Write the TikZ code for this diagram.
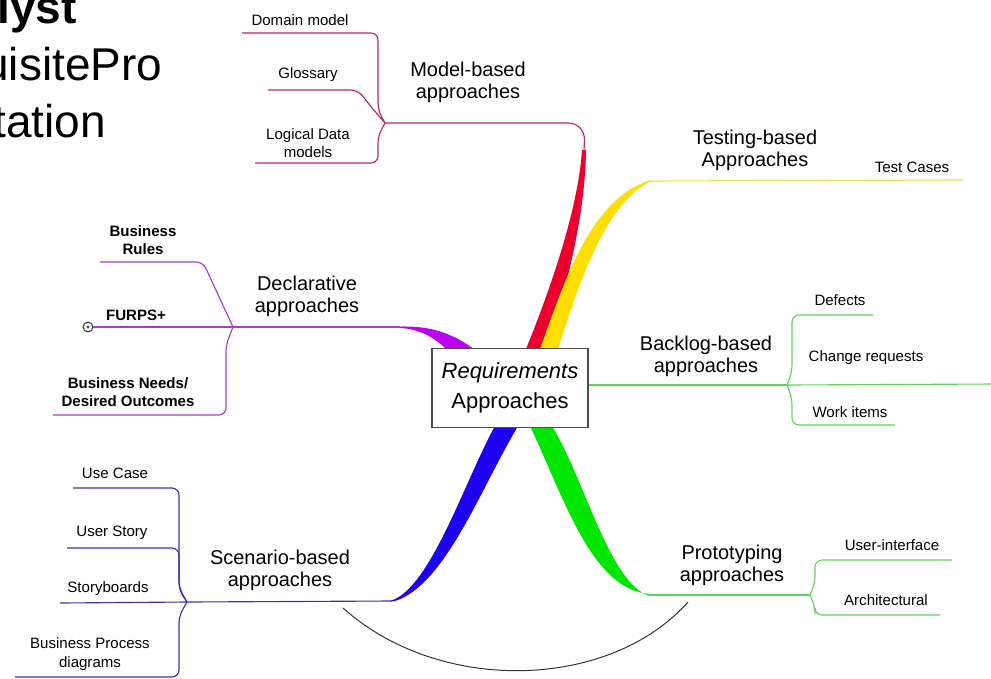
\documentclass[tikz,border=0pt]{standalone}
\usepackage{fontspec}
\setmainfont{Liberation Sans}
\definecolor{redtk}{RGB}{235,0,45}
\definecolor{redln}{RGB}{190,40,80}
\definecolor{yeltk}{RGB}{255,222,0}
\definecolor{yelln}{RGB}{238,224,90}
\definecolor{purtk}{RGB}{190,0,240}
\definecolor{purln}{RGB}{170,60,200}
\definecolor{grntk}{RGB}{0,230,0}
\definecolor{grnln}{RGB}{95,210,95}
\definecolor{blutk}{RGB}{30,0,240}
\definecolor{bluln}{RGB}{60,50,170}
\tikzset{
  topic/.style={align=center,inner sep=1pt,font=\fontsize{14.2}{15.6}\selectfont},
  leaf/.style={align=center,inner sep=1pt,font=\fontsize{10.7}{13.3}\selectfont},
  leafb/.style={leaf,font=\bfseries\fontsize{10.7}{13.3}\selectfont},
  big/.style={anchor=base west,inner sep=0pt,font=\fontsize{32.7}{40}\selectfont},
  twig/.style={line width=0.8pt,rounded corners=5pt},
}
\begin{document}
\begin{tikzpicture}[x=0.025cm,y=-0.025cm]
    \useasboundingbox (0,0) rectangle (991,678);
    \clip (0,0) rectangle (991,678);
    % slide text cut at the left edge
    \node[big,font=\bfseries\fontsize{32.7}{40}\selectfont] (anl) at (-3,23) {lyst};
    \node[big] (rqp) at (-17,80) {uisitePro};
    \node[big] (doc) at (-7,137) {tation};
    % thick branch roots
    \fill[redtk] (526,349) .. controls (550,290) and (578,210) .. (582,150) -- (586,150) .. controls (585,220) and (565,290) .. (548,349) -- cycle;
    \fill[yeltk] (540,349) .. controls (565,280) and (590,200) .. (650,180) -- (650,181.5) .. controls (605,205) and (580,280) .. (558,349) -- cycle;
    \fill[purtk] (400,326.5) .. controls (430,326) and (450,332) .. (474,349) -- (446,349) .. controls (435,338) and (420,329) .. (400,328) -- cycle;
    \fill[blutk] (495,426) .. controls (465,480) and (430,590) .. (390,601) -- (395,601) .. controls (445,585) and (480,490) .. (518,426) -- cycle;
    \fill[grntk] (530,426) .. controls (565,500) and (592,590) .. (650,594) -- (650,596) .. controls (610,585) and (585,480) .. (552,426) -- cycle;
    \node[draw=black!70,fill=white,line width=0.9pt,minimum width=111pt,minimum height=56pt,align=center,
          font=\fontsize{15.6}{21.3}\selectfont] (root) at (510,388) {\textit{Requirements}\\Approaches};
    % branch ends and forks
    \coordinate (mtop) at (584,152);
    \coordinate (mfork) at (385,123);
    \coordinate (ytop) at (649,181);
    \coordinate (dtop) at (400,327);
    \coordinate (dfork) at (233,327);
    \coordinate (bfork) at (787,385);
    \coordinate (stop) at (392,601);
    \coordinate (sfork) at (187,602);
    \coordinate (ptop) at (649,595);
    \coordinate (pfork) at (810,595);
    % topics
    \node[topic] (model) at (468,82) {Model-based\\approaches};
    \node[topic] (test) at (755,150) {Testing-based\\Approaches};
    \node[topic] (decl) at (307,296) {Declarative\\approaches};
    \node[topic] (back) at (706,356) {Backlog-based\\approaches};
    \node[topic] (scen) at (280,570) {Scenario-based\\approaches};
    \node[topic] (proto) at (732,565) {Prototyping\\approaches};
    % leaves
    \node[leaf] (dom) at (300,20) {Domain model};
    \node[leaf] (glo) at (308,75) {Glossary};
    \node[leaf] (ldm) at (308,143) {Logical Data\\models};
    \node[leaf] (tc) at (912,167) {Test Cases};
    \node[leafb] (rul) at (143,240) {Business\\Rules};
    \node[leafb] (fur) at (136,315) {FURPS+};
    \node[leafb] (ned) at (128,392) {Business Needs/\\Desired Outcomes};
    \node[leaf] (def) at (840,300) {Defects};
    \node[leaf] (chg) at (866,358) {Change requests};
    \node[leaf] (wrk) at (850,412) {Work items};
    \node[leaf] (use) at (115,473) {Use Case};
    \node[leaf] (sty) at (112,533) {User Story};
    \node[leaf] (brd) at (108,589) {Storyboards};
    \node[leaf] (bpd) at (90,654) {Business Process\\diagrams};
    \node[leaf] (ui) at (892,545) {User-interface};
    \node[leaf] (arc) at (886,600) {Architectural};
    \node[draw=black!70,circle,line width=0.8pt,inner sep=0pt,minimum size=7pt] (furc) at (88,327) {};
    \fill[black!70] (furc) circle (1.2pt);
    % leaf underline ends
    \coordinate (dom-l) at (242,33);
    \coordinate (glo-l) at (268,90);
    \coordinate (ldm-l) at (255,163);
    \coordinate (tc-r) at (963,180);
    \coordinate (rul-l) at (100,262);
    \coordinate (ned-l) at (53,415);
    \coordinate (def-r) at (873,315);
    \coordinate (chg-r) at (995,384);
    \coordinate (wrk-r) at (895,425);
    \coordinate (use-l) at (73,488);
    \coordinate (sty-l) at (67,548);
    \coordinate (brd-l) at (60,603);
    \coordinate (bpd-l) at (15,677);
    \coordinate (ui-r) at (952,560);
    \coordinate (arc-r) at (940,615);
    % model-based
    \draw[twig,redln,rounded corners=12pt] (mtop) -- (585,123) -- (mfork);
    \draw[twig,redln] (mfork) -- (378,110) |- (dom-l);
    \draw[twig,redln] (mfork) -- (372,108) -- (358,90) -- (glo-l);
    \draw[twig,redln] (mfork) -- (378,136) |- (ldm-l);
    % testing-based
    \draw[twig,yelln] (ytop) -- (tc-r);
    % declarative
    \draw[twig,purln] (dtop) -- (dfork);
    \draw[twig,purln] (dfork) -- (203,262) -- (rul-l);
    \draw[twig,purln] (dfork) -- (furc.east);
    \draw[twig,purln] (dfork) -- (226,345) |- (ned-l);
    % backlog-based
    \draw[twig,grnln] (root.east |- bfork) -- (bfork);
    \draw[twig,grnln] (bfork) -- (792,372) |- (def-r);
    \draw[twig,grnln] (bfork) -- (chg-r);
    \draw[twig,grnln] (bfork) -- (792,398) |- (wrk-r);
    % scenario-based
    \draw[twig,bluln] (stop) -- (sfork);
    \draw[twig,bluln] (sfork) -- (179,588) |- (use-l);
    \draw[twig,bluln] (sfork) -- (179,590) |- (sty-l);
    \draw[twig,bluln] (sfork) -- (brd-l);
    \draw[twig,bluln] (sfork) -- (179,616) |- (bpd-l);
    % prototyping
    \draw[twig,grnln] (ptop) -- (pfork);
    \draw[twig,grnln] (pfork) -- (815,583) |- (ui-r);
    \draw[twig,grnln] (pfork) -- (815,607) |- (arc-r);
    % link between scenario and prototyping
    \coordinate (lnk-a) at (343,608);
    \coordinate (lnk-b) at (688,602);
    \draw[black!80,line width=0.7pt] (lnk-a) .. controls (440,695) and (610,690) .. (lnk-b);
\end{tikzpicture}
\end{document}
